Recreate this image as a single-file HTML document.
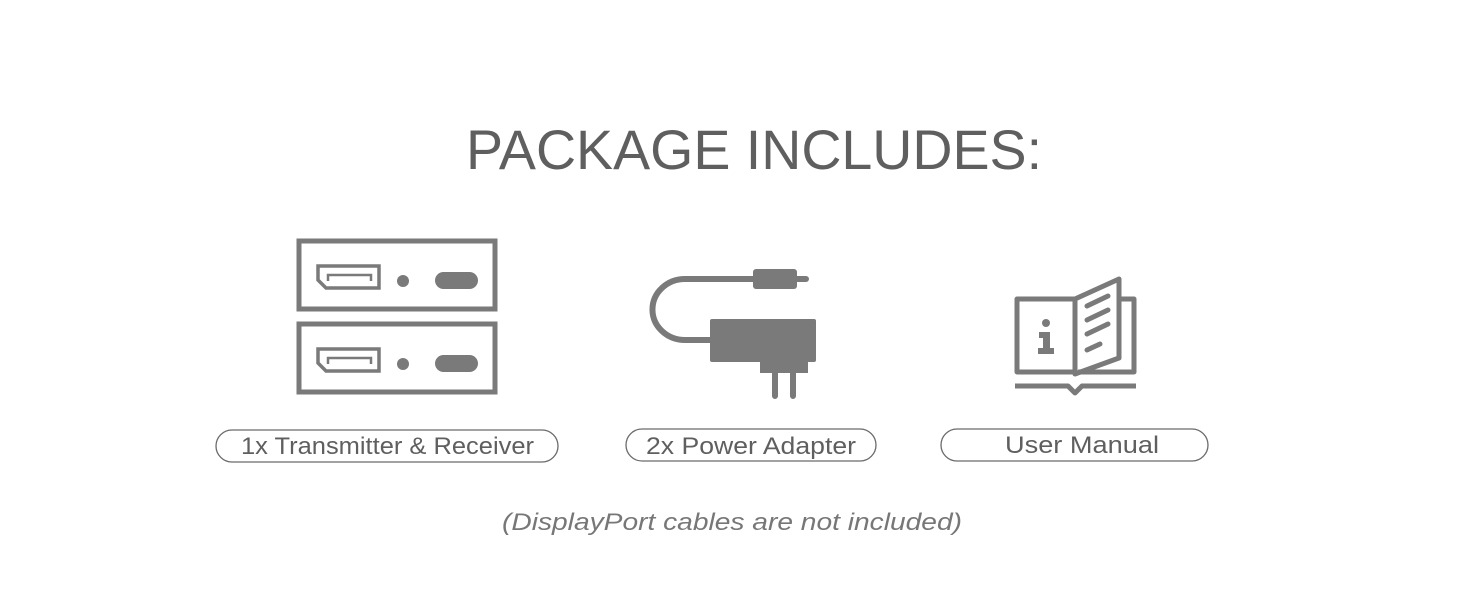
<!DOCTYPE html>
<html><head><style>html,body{margin:0;padding:0;background:#fff;width:1464px;height:600px;overflow:hidden}</style></head>
<body>
<svg width="1464" height="600" viewBox="0 0 1464 600" xmlns="http://www.w3.org/2000/svg" font-family="Liberation Sans, sans-serif">
<text x="466" y="169" font-size="56" fill="#5f5f5f" textLength="576" lengthAdjust="spacingAndGlyphs">PACKAGE INCLUDES:</text>
<g fill="none" stroke="#7a7a7a">
 <rect x="299" y="241" width="196" height="68" stroke-width="5"/>
 <rect x="299" y="324" width="196" height="68" stroke-width="5"/>
 <path d="M318,266 H379 V288 H326 L318,280 Z" stroke-width="3.5"/>
 <path d="M328,281 V275 H371 V281" stroke-width="2.5"/>
 <path d="M318,349 H379 V371 H326 L318,363 Z" stroke-width="3.5"/>
 <path d="M328,364 V358 H371 V364" stroke-width="2.5"/>
</g>
<g fill="#7a7a7a">
 <circle cx="403" cy="281" r="6"/><rect x="435" y="272" width="43" height="17" rx="8.5"/>
 <circle cx="403" cy="364" r="6"/><rect x="435" y="355" width="43" height="17" rx="8.5"/>
</g>
<g fill="none" stroke="#7a7a7a" stroke-width="6" stroke-linecap="round">
 <path d="M755,279 H685 A32,30 0 0 0 685,340 H712"/>
 <path d="M795,279 H806"/>
 <path d="M775,370 V396 M793,370 V396"/>
</g>
<g fill="#7a7a7a">
 <rect x="753" y="269" width="44" height="20" rx="3"/>
 <rect x="710" y="319" width="106" height="43" rx="2"/>
 <rect x="760" y="360" width="48" height="13"/>
</g>
<g fill="none" stroke="#7a7a7a" stroke-width="5" stroke-linejoin="round">
 <rect x="1017" y="299" width="58" height="73"/>
 <path d="M1075,299 L1119,279 V358 L1075,374 Z"/>
 <path d="M1119,299 H1134 V372 H1078"/>
 <path d="M1015,386 H1068 L1075,393 L1082,386 H1136"/>
 <path d="M1087,306 L1108,296 M1087,320 L1108,310 M1087,334 L1108,324 M1087,350 L1100,344" stroke-linecap="round"/>
</g>
<g fill="#7a7a7a">
 <circle cx="1046" cy="323" r="4"/>
 <path d="M1039,332 H1050 V348 H1054 V354 H1038 V348 H1043 V338 H1039 Z"/>
</g>
<g fill="none" stroke="#6a6a6a" stroke-width="1.3">
 <rect x="216" y="430" width="342" height="32" rx="16"/>
 <rect x="626" y="429" width="250" height="32" rx="16"/>
 <rect x="941" y="429" width="267" height="32" rx="16"/>
</g>
<g font-size="24" fill="#5f5f5f">
 <text x="241" y="454" textLength="293" lengthAdjust="spacingAndGlyphs">1x Transmitter &amp; Receiver</text>
 <text x="646" y="454" textLength="210" lengthAdjust="spacingAndGlyphs">2x Power Adapter</text>
 <text x="1005" y="453" textLength="154" lengthAdjust="spacingAndGlyphs">User Manual</text>
 <text x="502" y="530" font-style="italic" fill="#777" textLength="460" lengthAdjust="spacingAndGlyphs">(DisplayPort cables are not included)</text>
</g>
</svg>
</body></html>
